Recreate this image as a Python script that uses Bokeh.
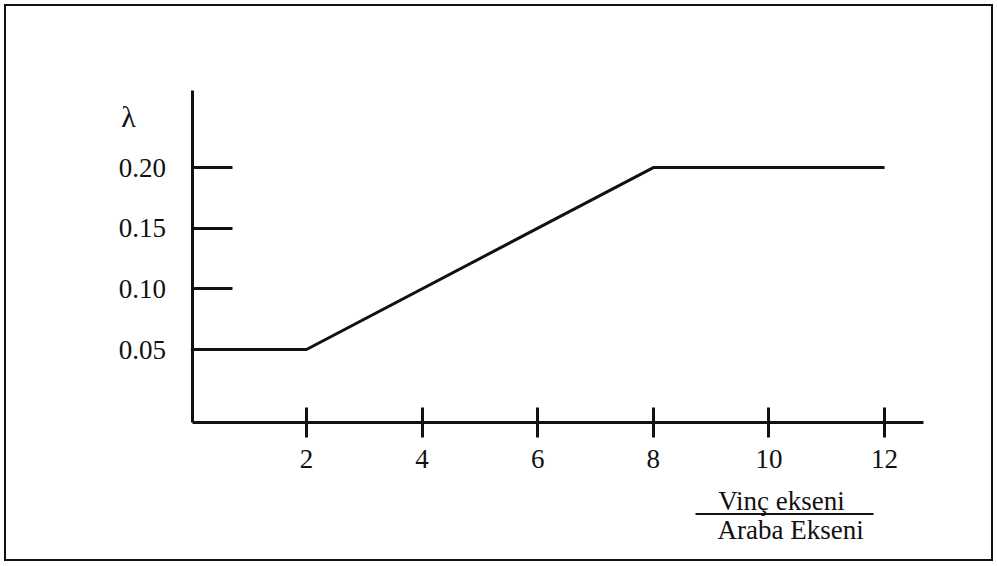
from bokeh.plotting import figure
from bokeh.models import Range1d, FixedTicker, PrintfTickFormatter, Label
from bokeh.embed import file_html
from bokeh.resources import INLINE

# ---- data ----
ratio = [0, 2, 8, 12]            # Vinç ekseni / Araba Ekseni
lam = [0.05, 0.05, 0.20, 0.20]   # λ
x_ticks = [2, 4, 6, 8, 10, 12]
y_ticks = [0.05, 0.10, 0.15, 0.20]

# axis placement (data units)
X_AXIS_AT = -0.0102      # y value where the horizontal axis sits
Y_AXIS_AT = 0.036        # x value where the vertical axis sits
X_AXIS_END = 12.675
Y_AXIS_END = 0.2635

FONT = "Liberation Serif"
INK = "#111111"
FS = "27px"

p = figure(width=989, height=557, output_backend="svg", toolbar_location=None, title=None,
           x_range=Range1d(-3.190, 13.920), y_range=Range1d(-0.12642, 0.33277),
           min_border=0, min_border_left=0, min_border_right=0,
           min_border_top=0, min_border_bottom=0)
p.styles = {"margin": "4px 0 0 4px", "border": "2px solid #111111"}
p.outline_line_color = None
p.background_fill_color = "white"
p.border_fill_color = "white"
p.grid.visible = False

p.line(ratio, lam, line_color=INK, line_width=3)

# x axis
xa = p.xaxis[0]
xa.fixed_location = X_AXIS_AT
xa.bounds = (Y_AXIS_AT, X_AXIS_END)
xa.ticker = FixedTicker(ticks=x_ticks)
xa.minor_tick_line_color = None
xa.major_tick_in = 15
xa.major_tick_out = 15
xa.major_tick_line_width = 3
xa.major_tick_line_color = INK
xa.axis_line_width = 3
xa.axis_line_color = INK
xa.major_label_standoff = 12
xa.major_label_text_font = FONT
xa.major_label_text_font_size = FS
xa.major_label_text_color = INK

# y axis
ya = p.yaxis[0]
ya.fixed_location = Y_AXIS_AT
ya.bounds = (X_AXIS_AT, Y_AXIS_END)
ya.ticker = FixedTicker(ticks=y_ticks)
ya.formatter = PrintfTickFormatter(format="%.2f")
ya.minor_tick_line_color = None
ya.major_tick_in = 40
ya.major_tick_out = 0
ya.major_tick_line_width = 3
ya.major_tick_line_color = INK
ya.axis_line_width = 3
ya.axis_line_color = INK
ya.major_label_standoff = 27
ya.major_label_text_font = FONT
ya.major_label_text_font_size = FS
ya.major_label_text_color = INK

# lambda symbol above the y axis
p.add_layout(Label(x=-1.08, y=0.2421, text="λ", text_font=FONT, text_font_size="30px",
                   text_color=INK, text_align="center", text_baseline="middle"))

# fraction label: Vinç ekseni / Araba Ekseni
p.add_layout(Label(x=10.218, y=-0.0745, text="Vinç ekseni", text_font=FONT, text_font_size=FS,
                   text_color=INK, text_align="center", text_baseline="alphabetic"))
p.segment(x0=[8.73], y0=[-0.0856], x1=[11.81], y1=[-0.0856], line_color=INK, line_width=2)
p.add_layout(Label(x=10.374, y=-0.0984, text="Araba Ekseni", text_font=FONT, text_font_size=FS,
                   text_color=INK, text_align="center", text_baseline="alphabetic"))

open("out.html", "w").write(file_html(p, INLINE))
